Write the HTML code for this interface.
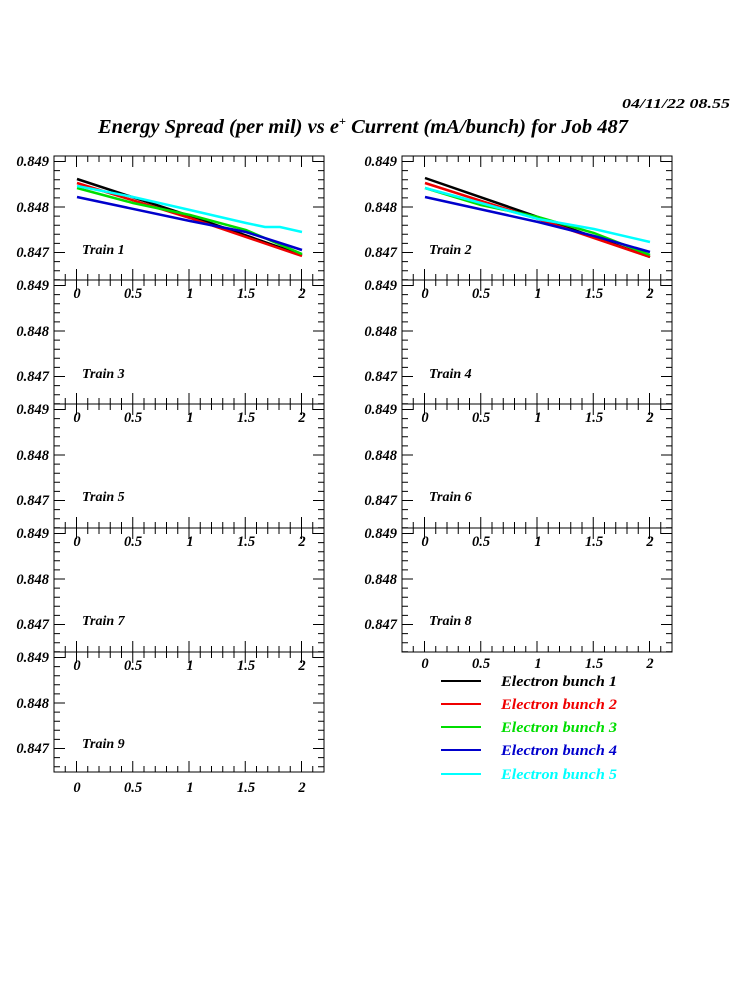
<!DOCTYPE html>
<html><head><meta charset="utf-8"><style>
body{margin:0;background:#fff}
svg{display:block}
text{font-family:"Liberation Serif",serif;font-weight:bold;font-style:italic}
</style></head><body>
<svg id="s" width="750" height="1000" xmlns="http://www.w3.org/2000/svg" style="position:absolute;left:0;top:0">
<text x="622" y="108" style="font-size:14px" textLength="108" lengthAdjust="spacingAndGlyphs">04/11/22   08.55</text>
<text x="98" y="133" style="font-size:20px" textLength="530" lengthAdjust="spacingAndGlyphs">Energy Spread (per mil) vs e<tspan dy="-8" style="font-size:12px">+</tspan><tspan dy="8"> Current (mA/bunch) for Job 487</tspan></text>
<g id="frames" fill="none" stroke="#000" stroke-width="1"></g>
<g style="font-size:14px">
<text x="82" y="254">Train 1</text><text x="429" y="254">Train 2</text>
<text x="82" y="378">Train 3</text><text x="429" y="378">Train 4</text>
<text x="82" y="501">Train 5</text><text x="429" y="501">Train 6</text>
<text x="82" y="625">Train 7</text><text x="429" y="625">Train 8</text>
<text x="82" y="748">Train 9</text>
</g>
<g fill="none" stroke-width="2.5">
<polyline stroke="#000" points="77,179 190,216 302,255"/>
<polyline stroke="#e00" points="77,183 190,218 302,256"/>
<polyline stroke="#0d0" points="77,188 133,203 190,215 246,230 302,254"/>
<polyline stroke="#00c" points="77,197 190,221 246,232 302,250"/>
<polyline stroke="#0ff" points="77,186 133,197 190,210 246,223 265,227 280,227 302,232"/>
<polyline stroke="#000" points="425,178 538,217 650,257"/>
<polyline stroke="#e00" points="425,183 538,219 650,257"/>
<polyline stroke="#0d0" points="425,188 481,205 538,217 594,233 650,255"/>
<polyline stroke="#00c" points="425,197 538,222 594,236 650,252"/>
<polyline stroke="#0ff" points="425,188 481,203 538,219 594,229 650,242"/>
</g>
<g stroke-width="2">
<line x1="441" y1="681" x2="481" y2="681" stroke="#000"/>
<line x1="441" y1="704" x2="481" y2="704" stroke="#e00"/>
<line x1="441" y1="727" x2="481" y2="727" stroke="#0d0"/>
<line x1="441" y1="750" x2="481" y2="750" stroke="#00c"/>
<line x1="441" y1="774" x2="481" y2="774" stroke="#0ff"/>
</g>
<g style="font-size:14.5px">
<text x="501" y="686" fill="#000" textLength="116" lengthAdjust="spacingAndGlyphs">Electron bunch 1</text>
<text x="501" y="709" fill="#e00" textLength="116" lengthAdjust="spacingAndGlyphs">Electron bunch 2</text>
<text x="501" y="732" fill="#0d0" textLength="116" lengthAdjust="spacingAndGlyphs">Electron bunch 3</text>
<text x="501" y="755" fill="#00c" textLength="116" lengthAdjust="spacingAndGlyphs">Electron bunch 4</text>
<text x="501" y="779" fill="#0ff" textLength="116" lengthAdjust="spacingAndGlyphs">Electron bunch 5</text>
</g>
<g style="font-size:14.5px" text-anchor="end">
<text x="49" y="166">0.849</text><text x="49" y="212">0.848</text><text x="49" y="257">0.847</text>
<text x="49" y="290">0.849</text><text x="49" y="336">0.848</text><text x="49" y="381">0.847</text>
<text x="49" y="414">0.849</text><text x="49" y="460">0.848</text><text x="49" y="505">0.847</text>
<text x="49" y="538">0.849</text><text x="49" y="584">0.848</text><text x="49" y="629">0.847</text>
<text x="49" y="662">0.849</text><text x="49" y="708">0.848</text><text x="49" y="753">0.847</text>
<text x="397" y="166">0.849</text><text x="397" y="212">0.848</text><text x="397" y="257">0.847</text>
<text x="397" y="290">0.849</text><text x="397" y="336">0.848</text><text x="397" y="381">0.847</text>
<text x="397" y="414">0.849</text><text x="397" y="460">0.848</text><text x="397" y="505">0.847</text>
<text x="397" y="538">0.849</text><text x="397" y="584">0.848</text><text x="397" y="629">0.847</text>
</g>
<g style="font-size:14.5px" text-anchor="middle">
<g>
<text x="77" y="298">0</text><text x="133" y="298">0.5</text><text x="190" y="298">1</text><text x="246" y="298">1.5</text><text x="302" y="298">2</text>
<text x="425" y="298">0</text><text x="481" y="298">0.5</text><text x="538" y="298">1</text><text x="594" y="298">1.5</text><text x="650" y="298">2</text>
</g>
<g transform="translate(0,124)">
<text x="77" y="298">0</text><text x="133" y="298">0.5</text><text x="190" y="298">1</text><text x="246" y="298">1.5</text><text x="302" y="298">2</text>
<text x="425" y="298">0</text><text x="481" y="298">0.5</text><text x="538" y="298">1</text><text x="594" y="298">1.5</text><text x="650" y="298">2</text>
</g>
<g transform="translate(0,248)">
<text x="77" y="298">0</text><text x="133" y="298">0.5</text><text x="190" y="298">1</text><text x="246" y="298">1.5</text><text x="302" y="298">2</text>
<text x="425" y="298">0</text><text x="481" y="298">0.5</text><text x="538" y="298">1</text><text x="594" y="298">1.5</text><text x="650" y="298">2</text>
</g>
<g transform="translate(0,372)">
<text x="77" y="298">0</text><text x="133" y="298">0.5</text><text x="190" y="298">1</text><text x="246" y="298">1.5</text><text x="302" y="298">2</text>
<text x="425" y="296">0</text><text x="481" y="296">0.5</text><text x="538" y="296">1</text><text x="594" y="296">1.5</text><text x="650" y="296">2</text>
</g>
<g transform="translate(0,494)">
<text x="77" y="298">0</text><text x="133" y="298">0.5</text><text x="190" y="298">1</text><text x="246" y="298">1.5</text><text x="302" y="298">2</text>
</g>
</g>
</svg>
<script>
var NS="http://www.w3.org/2000/svg";
var fr=document.getElementById("frames");
var d="";
function panel(x0,top,bot){
  var x1=x0+270;
  d+="M"+x0+" "+top+"H"+x1+"V"+bot+"H"+x0+"Z";
  for(var i=0;i<=24;i++){var x=x0+i*11.25;var L=((i-2)%5==0)?11:6;
    d+="M"+x+" "+top+"v"+L+"M"+x+" "+bot+"v"+(-L);}
  for(var j=-2;j<=14;j++){var y=top+5.5+j*9.1;if(y<top||y>bot)continue;var L=(j%5==0)?11:6;
    d+="M"+x0+" "+y+"h"+L+"M"+x1+" "+y+"h"+(-L);}
}
var tops=[156,280,404,528,652];
for(var k=0;k<5;k++){panel(54,tops[k],k==4?772:tops[k]+124);if(k<4)panel(402,tops[k],tops[k]+124);}
var p=document.createElementNS(NS,"path");p.setAttribute("d",d);fr.appendChild(p);
</script>
</body></html>
